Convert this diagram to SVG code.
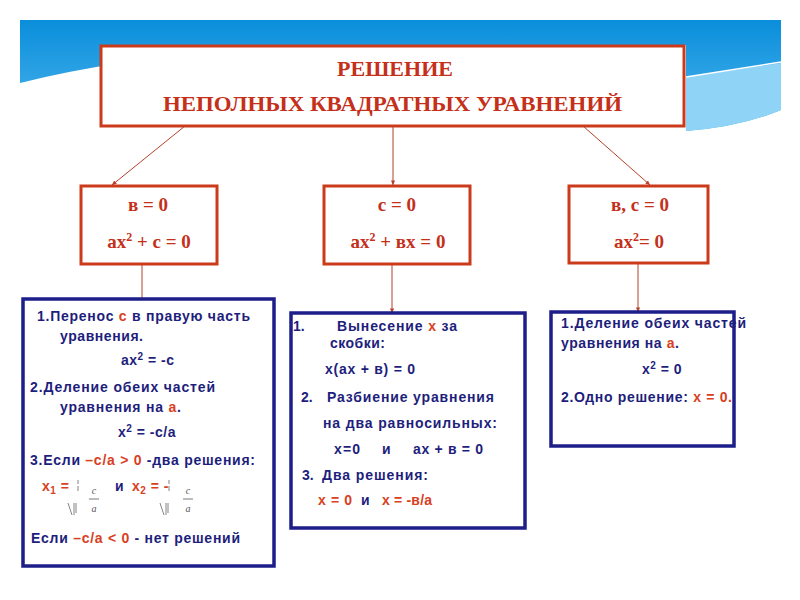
<svg xmlns="http://www.w3.org/2000/svg" width="800" height="600" viewBox="0 0 800 600">
<defs>
<linearGradient id="sky" x1="0" y1="0" x2="0" y2="1">
<stop offset="0" stop-color="#0a8edb"/>
<stop offset="1" stop-color="#4fb6ee"/>
</linearGradient>
<marker id="ah" viewBox="0 0 6 6" refX="5.5" refY="3" markerWidth="5" markerHeight="5" orient="auto" markerUnits="userSpaceOnUse">
<path d="M0,0.5 L6,3 L0,5.5 Z" fill="#b5412a"/>
</marker>
<style>
.title{font-family:"Liberation Serif","DejaVu Serif",serif;font-weight:bold;fill:#c4301a;font-size:22px}
.rbox{fill:#fff;stroke:#cc3a1c;stroke-width:3}
.bbox{fill:#fff;stroke:#1e1e8a;stroke-width:3.5}
.eq{font-family:"Liberation Serif","DejaVu Serif",serif;font-weight:bold;fill:#c4301a;font-size:19px;text-anchor:middle}
.eq .sup{font-size:12px}
.t{font-family:"Liberation Sans",Arial,sans-serif;font-weight:bold;fill:#1e1e7c;font-size:14px}
.r{fill:#d8401e}
.sup{font-size:10px}
.sub{font-size:10px}
.conn{stroke:#b5412a;stroke-width:1;fill:none;marker-end:url(#ah)}
.frac{font-family:"Liberation Serif",serif;font-style:italic;fill:#555;font-size:10px;text-anchor:middle}
.glitch{stroke:#666;stroke-width:0.8;fill:none}
</style>
</defs>
<rect width="800" height="600" fill="#fff"/>
<g id="background">
<path d="M20,20 H781 V110 Q740,127 686,131 L686,45 L300,45 Q130,55 20,83 Z" fill="url(#sky)"/>
<path d="M686,77 L781,63 V110 Q740,127 686,131 Z" fill="#8fd4f6"/>
<path d="M686,77 L781,62" stroke="#fff" stroke-width="1.5" fill="none"/>
</g>
<g id="title">
<rect class="rbox" x="101" y="46" width="583" height="80"/>
<text class="title" x="337" y="76" textLength="116" lengthAdjust="spacingAndGlyphs">РЕШЕНИЕ</text>
<text class="title" x="163" y="111" textLength="459" lengthAdjust="spacingAndGlyphs">НЕПОЛНЫХ  КВАДРАТНЫХ  УРАВНЕНИЙ</text>
</g>
<g id="connectors">
<line class="conn" x1="185" y1="126" x2="112" y2="185"/>
<line class="conn" x1="393" y1="127" x2="393" y2="185"/>
<line class="conn" x1="583" y1="126" x2="650" y2="185"/>
<line class="conn" x1="142" y1="265" x2="142" y2="310"/>
<line class="conn" x1="392" y1="265" x2="392" y2="313"/>
<line class="conn" x1="638" y1="263" x2="638" y2="312"/>
</g>
<g id="case-b0">
<rect class="rbox" x="81" y="186" width="136" height="78"/>
<text class="eq" x="148" y="211">в = 0</text>
<text class="eq" x="149" y="248">ax<tspan class="sup" dy="-7">2</tspan><tspan dy="7"> + c = 0</tspan></text>
</g>
<g id="case-c0">
<rect class="rbox" x="324" y="186" width="146" height="78"/>
<text class="eq" x="397" y="211">c = 0</text>
<text class="eq" x="398" y="248">ax<tspan class="sup" dy="-7">2</tspan><tspan dy="7"> + вx = 0</tspan></text>
</g>
<g id="case-bc0">
<rect class="rbox" x="569" y="186" width="139" height="77"/>
<text class="eq" x="640" y="211">в, c = 0</text>
<text class="eq" x="639" y="248">ax<tspan class="sup" dy="-7">2</tspan><tspan dy="7">= 0</tspan></text>
</g>
<g id="solve-b0">
<rect class="bbox" x="23" y="299" width="251" height="267"/>
<text class="t" x="37" y="321" textLength="213" lengthAdjust="spacing">1.Перенос <tspan class="r">с</tspan> в правую часть</text>
<text class="t" x="60" y="341" textLength="83" lengthAdjust="spacing">уравнения.</text>
<text class="t" x="121" y="365" letter-spacing="0.5">ax<tspan class="sup" dy="-5">2</tspan><tspan dy="5"> = -c</tspan></text>
<text class="t" x="30" y="392" textLength="185" lengthAdjust="spacing">2.Деление обеих частей</text>
<text class="t" x="60" y="412" textLength="121" lengthAdjust="spacing">уравнения на <tspan class="r">а</tspan>.</text>
<text class="t" x="118" y="437" letter-spacing="0.5">x<tspan class="sup" dy="-5">2</tspan><tspan dy="5"> = -c/a</tspan></text>
<text class="t" x="30" y="465" textLength="225" lengthAdjust="spacing">3.Если <tspan class="r">–c/a &gt; 0</tspan> -два решения:</text>
<text class="t r" x="42" y="491" letter-spacing="0.5">x<tspan class="sub" dy="3">1</tspan><tspan dy="-3"> =</tspan></text>
<text class="t" x="115" y="491">и</text>
<text class="t r" x="132" y="491" letter-spacing="0.5">x<tspan class="sub" dy="3">2</tspan><tspan dy="-3"> = -</tspan></text>
<path class="glitch" d="M78,480 V484 M78,486 V491 M68,503 L72,515 M74,503 V515 M76,503 V513"/>
<path class="glitch" d="M169,480 V484 M169,486 V491 M160,503 L164,515 M166,503 V515 M168,503 V513"/>
<text class="frac" x="94" y="494">c</text>
<line x1="89" y1="499" x2="99" y2="499" stroke="#555" stroke-width="0.8"/>
<text class="frac" x="94" y="512">a</text>
<text class="frac" x="188" y="494">c</text>
<line x1="183" y1="499" x2="193" y2="499" stroke="#555" stroke-width="0.8"/>
<text class="frac" x="188" y="512">a</text>
<text class="t" x="31" y="543" textLength="209" lengthAdjust="spacing">Если <tspan class="r">–c/a &lt; 0</tspan> - нет решений</text>
</g>
<g id="solve-c0">
<rect class="bbox" x="291" y="313" width="234" height="215"/>
<text class="t" x="293" y="331">1.</text>
<text class="t" x="337" y="331" textLength="120" lengthAdjust="spacing">Вынесение <tspan class="r">x</tspan> за</text>
<text class="t" x="330" y="348" textLength="55" lengthAdjust="spacing">скобки:</text>
<text class="t" x="325" y="374" textLength="90" lengthAdjust="spacing">x(ax + в) = 0</text>
<text class="t" x="301" y="402">2.</text>
<text class="t" x="327" y="402" textLength="167" lengthAdjust="spacing">Разбиение уравнения</text>
<text class="t" x="323" y="428" textLength="174" lengthAdjust="spacing">на два равносильных:</text>
<text class="t" x="334" y="454" textLength="26" lengthAdjust="spacing">x=0</text>
<text class="t" x="382" y="454">и</text>
<text class="t" x="413" y="454" textLength="70" lengthAdjust="spacing">ax + в = 0</text>
<text class="t" x="302" y="480">3.</text>
<text class="t" x="322" y="480" textLength="106" lengthAdjust="spacing">Два решения:</text>
<text class="t r" x="318" y="505" textLength="34" lengthAdjust="spacing">x = 0</text>
<text class="t" x="361" y="505">и</text>
<text class="t r" x="382" y="505" textLength="50" lengthAdjust="spacing">x = -в/а</text>
</g>
<g id="solve-bc0">
<rect class="bbox" x="551" y="312" width="183" height="134"/>
<text class="t" x="561" y="328" textLength="185" lengthAdjust="spacing">1.Деление обеих частей</text>
<text class="t" x="561" y="348" textLength="118" lengthAdjust="spacing">уравнения на <tspan class="r">а</tspan>.</text>
<text class="t" x="642" y="374" letter-spacing="0.5">x<tspan class="sup" dy="-5">2</tspan><tspan dy="5"> = 0</tspan></text>
<text class="t" x="561" y="402" textLength="171" lengthAdjust="spacing">2.Одно решение: <tspan class="r">x = 0.</tspan></text>
</g>
</svg>
